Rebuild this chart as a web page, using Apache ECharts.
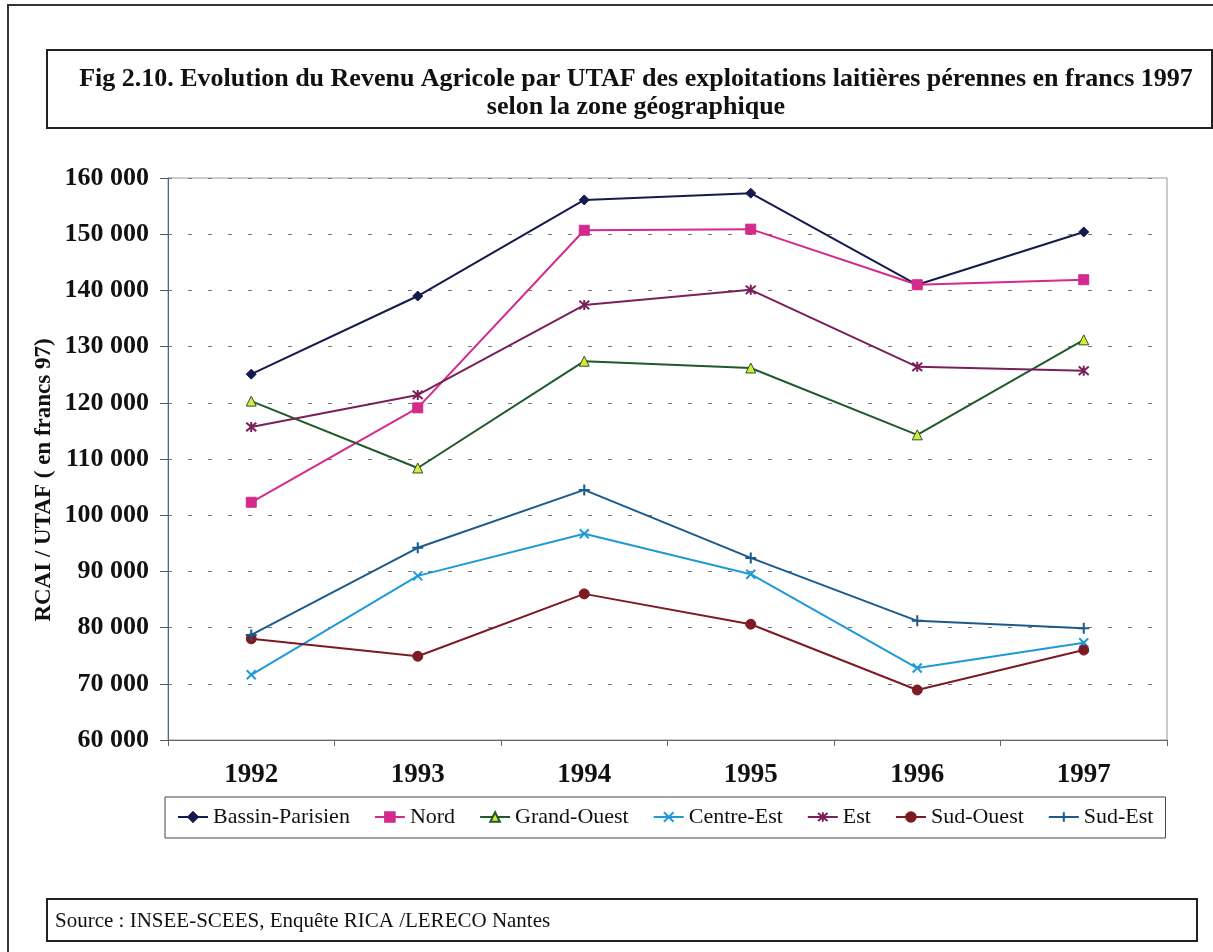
<!DOCTYPE html>
<html>
<head>
<meta charset="utf-8">
<script src="https://cdn.jsdelivr.net/npm/echarts@6/dist/echarts.min.js"></script>
<style>
  html, body { margin: 0; padding: 0; background: #fff; }
  #chart { width: 1213px; height: 952px; }
</style>
</head>
<body>
<div id="chart"></div>
<script>
const years = ['1992', '1993', '1994', '1995', '1996', '1997'];
const bassinParisien = [125100, 139000, 156100, 157300, 141000, 150400];
const nord = [102300, 119100, 150700, 150900, 141000, 141900];
const grandOuest = [120300, 108400, 127400, 126200, 114300, 131200];
const centreEst = [71600, 89200, 96700, 89500, 72800, 77300];
const est = [115700, 121400, 137400, 140100, 126400, 125700];
const sudOuest = [78000, 74900, 86000, 80600, 68900, 76000];
const sudEst = [78700, 94200, 104500, 92400, 81200, 79900];

const serif = '"Liberation Serif", "DejaVu Serif", serif';

const crossPath = 'path://M0,0L10,10M10,0L0,10';
const plusPath = 'path://M5,0L5,10M0,5L10,5';
const starPath = 'path://M0,0L10,10M10,0L0,10M5,-1L5,11';

function lineSeries(name, data, color, symbol, size, fill) {
  return {
    name,
    type: 'line',
    data,
    symbol,
    symbolSize: size,
    lineStyle: { color, width: 2 },
    itemStyle: { color: fill || color, borderColor: color, borderWidth: symbol.startsWith('path') ? 2 : 1 },
    emphasis: { disabled: true },
  };
}

const chart = echarts.init(document.getElementById('chart'));

chart.setOption({
  animation: false,
  title: [{
    text: 'Fig 2.10. Evolution du Revenu Agricole par UTAF des exploitations laitières pérennes en francs 1997\nselon la zone géographique',
    left: 631,
    top: 60,
    textAlign: 'center',
    textStyle: { fontFamily: serif, fontWeight: 'bold', fontSize: 26, lineHeight: 28, color: '#111' },
  }, {
    text: 'Source : INSEE-SCEES, Enquête RICA /LERECO Nantes',
    left: 50,
    top: 906,
    textStyle: { fontFamily: serif, fontWeight: 'normal', fontSize: 21, color: '#111' },
  }],
  graphic: [
    { type: 'polyline', shape: { points: [[8, 952], [8, 5], [1213, 5]] }, style: { stroke: '#333', lineWidth: 2, fill: null } },
    { type: 'rect', shape: { x: 47, y: 50, width: 1165, height: 78 }, style: { stroke: '#222', lineWidth: 2, fill: null } },
    { type: 'rect', shape: { x: 47, y: 899, width: 1150, height: 42 }, style: { stroke: '#222', lineWidth: 2, fill: null } },
    {
      type: 'text',
      x: 44,
      y: 480,
      rotation: Math.PI / 2,
      style: {
        text: 'RCAI / UTAF ( en francs 97)',
        font: 'bold 23px ' + serif,
        fill: '#111',
        align: 'center',
        verticalAlign: 'middle',
      },
    },
  ],
  legend: {
    left: 165,
    top: 797,
    padding: [9, 12, 10, 12],
    itemGap: 24,
    itemWidth: 30,
    itemHeight: 12,
    borderColor: '#444',
    borderWidth: 1,
    textStyle: { fontFamily: serif, fontSize: 22, color: '#111' },
  },
  grid: { left: 168, right: 46, top: 178, bottom: 212, show: true, borderColor: '#999', borderWidth: 1 },
  xAxis: {
    type: 'category',
    data: years,
    boundaryGap: true,
    axisLine: { lineStyle: { color: '#666', width: 1 } },
    axisTick: { show: true, length: 6, inside: false, lineStyle: { color: '#666' } },
    axisLabel: { margin: 22, fontFamily: serif, fontWeight: 'bold', fontSize: 27, color: '#111' },
  },
  yAxis: {
    type: 'value',
    min: 60000,
    max: 160000,
    interval: 10000,
    axisLine: { show: true, lineStyle: { color: '#4a6585', width: 1 } },
    axisTick: { show: true, length: 8, lineStyle: { color: '#555' } },
    axisLabel: {
      margin: 19,
      fontFamily: serif,
      fontWeight: 'bold',
      fontSize: 26,
      color: '#111',
      formatter: v => String(v).replace(/\B(?=(\d{3})+(?!\d))/g, ' '),
    },
    splitLine: { show: true, lineStyle: { color: '#777', type: [4, 16], width: 1 } },
  },
  series: [
    lineSeries('Bassin-Parisien', bassinParisien, '#141a4e', 'diamond', 10),
    lineSeries('Nord', nord, '#d42a8c', 'rect', 10),
    lineSeries('Grand-Ouest', grandOuest, '#1f5a2a', 'triangle', 10, '#dfe63a'),
    lineSeries('Centre-Est', centreEst, '#1e9ad6', crossPath, 9),
    lineSeries('Est', est, '#7a1f5a', starPath, 10),
    lineSeries('Sud-Ouest', sudOuest, '#7d1a24', 'circle', 10),
    lineSeries('Sud-Est', sudEst, '#1b5a8c', plusPath, 11),
  ],
});

window.addEventListener('resize', () => chart.resize());
</script>
</body>
</html>
